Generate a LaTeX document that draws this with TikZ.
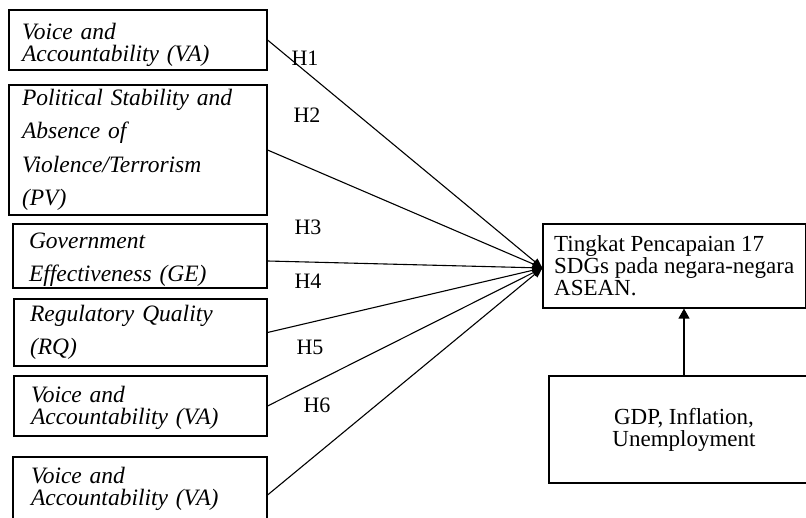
\documentclass[tikz,border=0pt]{standalone}
\usepackage{fontspec}
\setmainfont{Liberation Serif}
\usetikzlibrary{arrows.meta}

\begin{document}
\begin{tikzpicture}[x=1pt,y=-1pt,line width=1.1pt,
  factor/.style={draw,align=left,inner sep=0pt,font=\itshape\fontsize{23.5}{22}\selectfont},
  wide/.style={font=\itshape\fontsize{23.5}{33.3}\selectfont},
  hyp/.style={inner sep=0pt,font=\fontsize{22}{22}\selectfont},
  link/.style={-{Triangle[length=10pt,width=8pt]}}]
   \useasboundingbox (0,0) rectangle (806,518);

   % left: governance indicators
   \node[factor,text height=26pt,minimum width=258pt,minimum height=60pt,text width=232pt] (va1) at (138,40) {Voice and\\Accountability (VA)};
   \node[factor,wide,minimum width=258pt,minimum height=130pt,text width=232pt] (pv) at (138,150) {Political Stability and\\Absence of\\Violence/Terrorism\\(PV)};
   \node[factor,wide,text height=23pt,minimum width=254pt,minimum height=64pt,text width=222pt] (ge) at (140,256) {Government\\Effectiveness (GE)};
   \node[factor,wide,minimum width=253pt,minimum height=67pt,text width=221pt] (rq) at (140.5,332.5) {Regulatory Quality\\(RQ)};
   \node[factor,text height=20pt,minimum width=253pt,minimum height=60pt,text width=219pt] (va2) at (140.5,406) {Voice and\\Accountability (VA)};
   \node[factor,minimum width=254pt,minimum height=64pt,text width=218pt] (va3) at (140,489) {Voice and\\Accountability (VA)};

   % right: outcome and controls
   \node[draw,align=left,inner sep=0pt,minimum width=262.4pt,minimum height=84pt,font=\fontsize{23}{22}\selectfont] (sdg) at (674.2,266) {Tingkat Pencapaian 17\\SDGs pada negara-negara\\ASEAN.};
   \node[draw,align=center,minimum width=270pt,minimum height=107pt,font=\fontsize{23}{22}\selectfont] (ctrl) at (684,429.5) {GDP, Inflation,\\Unemployment};
   \coordinate (hub) at ([yshift=-2pt]sdg.west);

   \node[hyp] (h1) at (305,58) {H1};
   \node[hyp] (h2) at (307,115) {H2};
   \node[hyp] (h3) at (308,227) {H3};
   \node[hyp] (h4) at (308,281.5) {H4};
   \node[hyp] (h5) at (310,347) {H5};
   \node[hyp] (h6) at (317,405) {H6};

   \draw[link] (va1.east) -- (hub);
   \draw[link] (pv.east) -- (hub);
   \draw[link] ([yshift=-5pt]ge.east) -- (hub);
   \draw[link] (rq.east) -- (hub);
   \draw[link] (va2.east) -- (hub);
   \draw[link] ([yshift=-6pt]va3.east) -- (hub);

   \draw[-{Triangle[length=10pt,width=11pt]}] (ctrl.north) -- (ctrl.north |- sdg.south);
\end{tikzpicture}
\end{document}
